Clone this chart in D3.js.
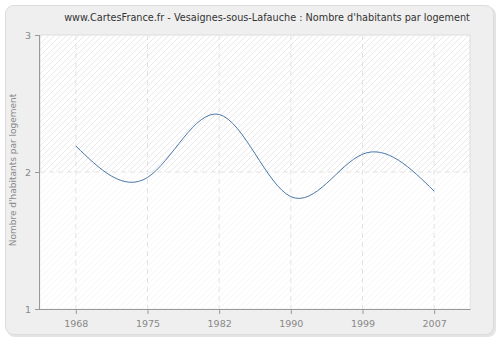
<!DOCTYPE html>
<html>
<head>
<meta charset="utf-8">
<script src="https://cdn.jsdelivr.net/npm/d3@7"></script>
<style>
  body { margin: 0; background: #fff; }
  text { font-family: "DejaVu Sans", Verdana, sans-serif; }
</style>
</head>
<body>
<svg id="chart" width="500" height="340"></svg>
<script>
// données
const years = ["1968", "1975", "1982", "1990", "1999", "2007"];
const habitants = [2.19, 1.96, 2.42, 1.82, 2.13, 1.86];
const yTicks = [1, 2, 3];
const title = "www.CartesFrance.fr - Vesaignes-sous-Lafauche : Nombre d'habitants par logement";
const yLabel = "Nombre d'habitants par logement";

const svg = d3.select("#chart");
const plotLeft = 40, plotRight = 470, plotTop = 35, plotBottom = 309;

// cadre extérieur
svg.append("rect")
  .attr("x", 7).attr("y", 7).attr("width", 489).attr("height", 330)
  .attr("rx", 8).attr("fill", "#e4e4e4");
svg.append("rect")
  .attr("x", 5.5).attr("y", 5.5).attr("width", 488).attr("height", 329)
  .attr("rx", 8).attr("fill", "#efefef").attr("stroke", "#dcdcdc");

// motif hachuré
const defs = svg.append("defs");
const pat = defs.append("pattern")
  .attr("id", "hatch").attr("patternUnits", "userSpaceOnUse")
  .attr("width", 6).attr("height", 6);
pat.append("rect").attr("width", 6).attr("height", 6).attr("fill", "#ffffff");
pat.append("path")
  .attr("d", "M-1,1 l2,-2 M0,6 l6,-6 M5,7 l2,-2")
  .attr("stroke", "#e8e8e8").attr("stroke-width", 1);

const x = d3.scalePoint().domain(years).range([plotLeft, plotRight]).padding(0.5);
const y = d3.scaleLinear().domain([1, 3]).range([plotBottom, plotTop]);

// zone de tracé
svg.append("rect")
  .attr("x", plotLeft).attr("y", plotTop)
  .attr("width", plotRight - plotLeft).attr("height", plotBottom - plotTop)
  .attr("fill", "url(#hatch)").attr("stroke", "#dddddd");
svg.append("rect")
  .attr("x", plotLeft).attr("y", y(2))
  .attr("width", plotRight - plotLeft).attr("height", y(1) - y(2))
  .attr("fill", "#ffffff").attr("opacity", 0.6);

// grille
svg.append("g").selectAll("line")
  .data(years).enter().append("line")
  .attr("x1", d => x(d)).attr("x2", d => x(d))
  .attr("y1", plotTop).attr("y2", plotBottom)
  .attr("stroke", "#e2e2e2").attr("stroke-dasharray", "5,4");
svg.append("g").selectAll("line")
  .data(yTicks.filter(d => d > 1 && d < 3)).enter().append("line")
  .attr("x1", plotLeft).attr("x2", plotRight)
  .attr("y1", d => y(d)).attr("y2", d => y(d))
  .attr("stroke", "#e2e2e2").attr("stroke-dasharray", "5,4");

// axes
const xAxis = svg.append("g")
  .attr("transform", `translate(0,${plotBottom})`)
  .call(d3.axisBottom(x).tickSize(5).tickPadding(6));
const yAxis = svg.append("g")
  .attr("transform", `translate(${plotLeft},0)`)
  .call(d3.axisLeft(y).tickValues(yTicks).tickFormat(d3.format("d")).tickSize(5).tickPadding(4));
[xAxis, yAxis].forEach(a => {
  a.select(".domain").attr("stroke", "#999999");
  a.selectAll(".tick line").attr("stroke", "#999999");
  a.selectAll(".tick text").attr("fill", "#888888").attr("font-size", 9.5)
    .attr("font-family", "DejaVu Sans, Verdana, sans-serif");
});
xAxis.select(".domain").attr("d", `M${plotLeft},0.5H${plotRight + 0.5}`);
yAxis.select(".domain").attr("d", `M-0.5,${plotTop}V${plotBottom}`);

// courbe
const line = d3.line()
  .x((d, i) => x(years[i]))
  .y(d => y(d))
  .curve(d3.curveNatural);
svg.append("path")
  .datum(habitants)
  .attr("d", line)
  .attr("fill", "none")
  .attr("stroke", "#4a78aa")
  .attr("stroke-width", 1);

// titres
svg.append("text")
  .attr("x", 267).attr("y", 21).attr("text-anchor", "middle")
  .attr("font-size", 9.7).attr("fill", "#333")
  .text(title);
svg.append("text")
  .attr("transform", `translate(16,170) rotate(-90)`)
  .attr("text-anchor", "middle")
  .attr("font-size", 9).attr("fill", "#888")
  .text(yLabel);
</script>
</body>
</html>
